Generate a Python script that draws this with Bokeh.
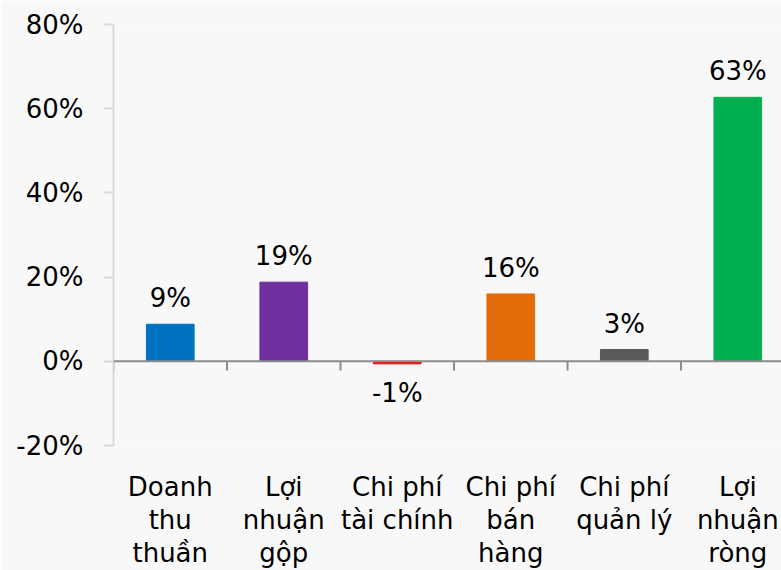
from bokeh.plotting import figure
from bokeh.models import ColumnDataSource, Range1d, FixedTicker, Span
from bokeh.core.properties import value
from bokeh.embed import file_html
from bokeh.resources import INLINE

categories = ["Doanh\nthu\nthuần", "Lợi\nnhuận\ngộp", "Chi phí\ntài chính",
              "Chi phí\nbán\nhàng", "Chi phí\nquản lý", "Lợi\nnhuận\nròng"]
values = [8.8, 18.8, -0.6, 16.0, 2.8, 62.7]
colors = ["#0070c0", "#7030a0", "#ff0000", "#e46c0a", "#595959", "#00b050"]
y_ticks = [-20, 0, 20, 40, 60, 80]

FONT = "DejaVu Sans"
BG = "#f8f8f8"

xs = [i + 0.5 for i in range(len(categories))]
labels = [f"{round(v)}%" for v in values]
offs = [-26 if v >= 0 else 29 for v in values]

src = ColumnDataSource(dict(x=xs, top=values, color=colors, label=labels, off=offs))

p = figure(width=781, height=570, output_backend="svg", toolbar_location=None,
           x_range=Range1d(0, 5.885), y_range=Range1d(-20, 80),
           min_border_left=113, min_border_top=24, min_border_right=0, min_border_bottom=125)
p.background_fill_color = BG
p.border_fill_color = BG
p.outline_line_color = None
p.grid.visible = False

p.vbar(x="x", top="top", bottom=0, width=0.42, color="color", source=src)

# zero line with category boundary ticks
p.add_layout(Span(location=0, dimension="width", line_color="#8c8c8c", line_width=2))
bx = list(range(len(categories) + 1))
p.segment(x0=bx, y0=[0] * len(bx), x1=bx, y1=[-2.2] * len(bx), line_color="#8c8c8c", line_width=2)

p.text(x="x", y="top", text="label", y_offset="off", source=src, text_align="center",
       text_baseline="alphabetic", text_font=value(FONT), text_font_size="26px", text_color="#000000")

# y axis
ya = p.yaxis[0]
ya.ticker = FixedTicker(ticks=y_ticks)
ya.major_label_overrides = {t: f"{t}%" for t in y_ticks}
ya.axis_line_color = "#d9d9d9"
ya.axis_line_width = 2
ya.major_tick_line_color = "#d9d9d9"
ya.major_tick_line_width = 2
ya.major_tick_out = 10
ya.major_tick_in = 0
ya.minor_tick_line_color = None
ya.major_label_standoff = 20
ya.major_label_text_font = FONT
ya.major_label_text_font_size = "26px"
ya.major_label_text_color = "#000000"

# x axis (labels only)
xa = p.xaxis[0]
xa.ticker = FixedTicker(ticks=xs)
xa.major_label_overrides = {x: c for x, c in zip(xs, categories)}
xa.axis_line_color = None
xa.major_tick_line_color = None
xa.minor_tick_line_color = None
xa.major_label_standoff = 20
xa.major_label_text_font = FONT
xa.major_label_text_font_size = "26px"
xa.major_label_text_color = "#000000"
xa.major_label_text_line_height = 1.1

open("out.html", "w").write(file_html(p, INLINE))
